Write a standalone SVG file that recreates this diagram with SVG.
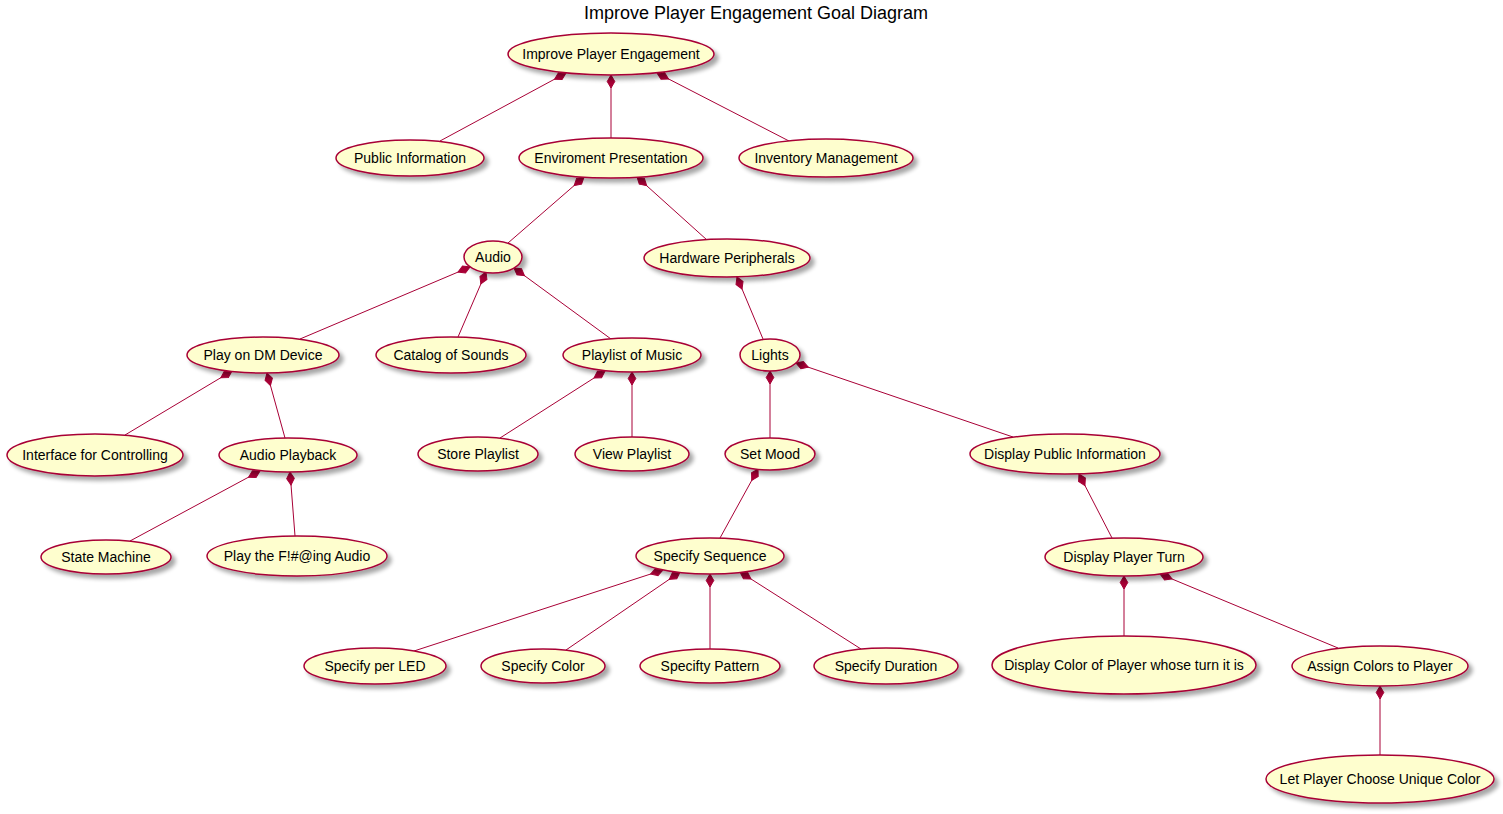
<svg xmlns="http://www.w3.org/2000/svg" width="1503" height="814" viewBox="0 0 1503 814">
<defs>
<filter id="sh" x="-10%" y="-20%" width="130%" height="160%">
<feGaussianBlur in="SourceAlpha" stdDeviation="2"/>
<feOffset dx="4" dy="4" result="b"/>
<feComponentTransfer in="b" result="c"><feFuncA type="linear" slope="0.35"/></feComponentTransfer>
<feMerge><feMergeNode in="c"/><feMergeNode in="SourceGraphic"/></feMerge>
</filter>
<marker id="dia" markerUnits="userSpaceOnUse" markerWidth="16" markerHeight="10" refX="0" refY="5" orient="auto" viewBox="0 0 16 10" overflow="visible">
<path d="M0,5 L6.5,1.2 L13,5 L6.5,8.8 Z" fill="#A80036" stroke="#A80036" stroke-width="1"/>
</marker>
<style>
.n ellipse{fill:#FEFECE;stroke:#A80036;stroke-width:1.5;filter:url(#sh)}
.n text{font-family:"Liberation Sans",Arial,sans-serif;font-size:14px;fill:#000;text-anchor:middle}
.e path{fill:none;stroke:#A80036;stroke-width:1;marker-start:url(#dia)}
.t{font-family:"Liberation Sans",Arial,sans-serif;font-size:18px;fill:#000;text-anchor:middle}
</style>
</defs>
<rect width="1503" height="814" fill="#FFFFFF"/>
<text class="t" x="756" y="19">Improve Player Engagement Goal Diagram</text>
<g id="connectors" class="e">
<path d="M566,73 L440,141"/>
<path d="M611,75 L611,138"/>
<path d="M657,73 L789,141"/>
<path d="M584,177 L508,243"/>
<path d="M637,177 L707,240"/>
<path d="M470,267 L300,339"/>
<path d="M486,272 L458,337"/>
<path d="M514,268 L611,339"/>
<path d="M737,277 L763,339"/>
<path d="M770,371 L770,438"/>
<path d="M796,363 L1013,437"/>
<path d="M232,371 L125,435"/>
<path d="M267,373 L285,438"/>
<path d="M605,371 L500,438"/>
<path d="M632,372 L632,437"/>
<path d="M260,471 L130,541"/>
<path d="M290,472 L295,536"/>
<path d="M758,469 L720,538"/>
<path d="M1079,474 L1112,538"/>
<path d="M663,570 L414,651"/>
<path d="M680,572 L566,650"/>
<path d="M710,574 L710,649"/>
<path d="M740,572 L861,649"/>
<path d="M1124,576 L1124,636"/>
<path d="M1160,574 L1338,648"/>
<path d="M1380,686 L1380,755"/>
</g>
<g id="n1" class="n"><ellipse cx="611" cy="54" rx="103" ry="21"/><text x="611" y="59">Improve Player Engagement</text></g>
<g id="n2" class="n"><ellipse cx="410" cy="158" rx="74" ry="18"/><text x="410" y="163">Public Information</text></g>
<g id="n3" class="n"><ellipse cx="611" cy="158" rx="92" ry="20"/><text x="611" y="163">Enviroment Presentation</text></g>
<g id="n4" class="n"><ellipse cx="826" cy="158" rx="87" ry="19"/><text x="826" y="163">Inventory Management</text></g>
<g id="n5" class="n"><ellipse cx="493" cy="257" rx="29" ry="16"/><text x="493" y="262">Audio</text></g>
<g id="n6" class="n"><ellipse cx="727" cy="258" rx="83" ry="19"/><text x="727" y="263">Hardware Peripherals</text></g>
<g id="n7" class="n"><ellipse cx="263" cy="355" rx="76" ry="18"/><text x="263" y="360">Play on DM Device</text></g>
<g id="n8" class="n"><ellipse cx="451" cy="355" rx="75" ry="18"/><text x="451" y="360">Catalog of Sounds</text></g>
<g id="n9" class="n"><ellipse cx="632" cy="355" rx="69" ry="17"/><text x="632" y="360">Playlist of Music</text></g>
<g id="n10" class="n"><ellipse cx="770" cy="355" rx="30" ry="16"/><text x="770" y="360">Lights</text></g>
<g id="n11" class="n"><ellipse cx="95" cy="455" rx="88" ry="21"/><text x="95" y="460">Interface for Controlling</text></g>
<g id="n12" class="n"><ellipse cx="288" cy="455" rx="69" ry="17"/><text x="288" y="460">Audio Playback</text></g>
<g id="n13" class="n"><ellipse cx="478" cy="454" rx="60" ry="17"/><text x="478" y="459">Store Playlist</text></g>
<g id="n14" class="n"><ellipse cx="632" cy="454" rx="57" ry="17"/><text x="632" y="459">View Playlist</text></g>
<g id="n15" class="n"><ellipse cx="770" cy="454" rx="45" ry="16"/><text x="770" y="459">Set Mood</text></g>
<g id="n16" class="n"><ellipse cx="1065" cy="454" rx="95" ry="20"/><text x="1065" y="459">Display Public Information</text></g>
<g id="n17" class="n"><ellipse cx="106" cy="557" rx="65" ry="17"/><text x="106" y="562">State Machine</text></g>
<g id="n18" class="n"><ellipse cx="297" cy="556" rx="90" ry="20"/><text x="297" y="561">Play the F!#@ing Audio</text></g>
<g id="n19" class="n"><ellipse cx="710" cy="556" rx="74" ry="18"/><text x="710" y="561">Specify Sequence</text></g>
<g id="n20" class="n"><ellipse cx="1124" cy="557" rx="79" ry="19"/><text x="1124" y="562">Display Player Turn</text></g>
<g id="n21" class="n"><ellipse cx="375" cy="666" rx="71" ry="18"/><text x="375" y="671">Specify per LED</text></g>
<g id="n22" class="n"><ellipse cx="543" cy="666" rx="62" ry="17"/><text x="543" y="671">Specify Color</text></g>
<g id="n23" class="n"><ellipse cx="710" cy="666" rx="70" ry="17"/><text x="710" y="671">Specifty Pattern</text></g>
<g id="n24" class="n"><ellipse cx="886" cy="666" rx="72" ry="18"/><text x="886" y="671">Specify Duration</text></g>
<g id="n25" class="n"><ellipse cx="1124" cy="665" rx="132" ry="29"/><text x="1124" y="670">Display Color of Player whose turn it is</text></g>
<g id="n26" class="n"><ellipse cx="1380" cy="666" rx="88" ry="20"/><text x="1380" y="671">Assign Colors to Player</text></g>
<g id="n27" class="n"><ellipse cx="1380" cy="779" rx="114" ry="24"/><text x="1380" y="784">Let Player Choose Unique Color</text></g>
</svg>
